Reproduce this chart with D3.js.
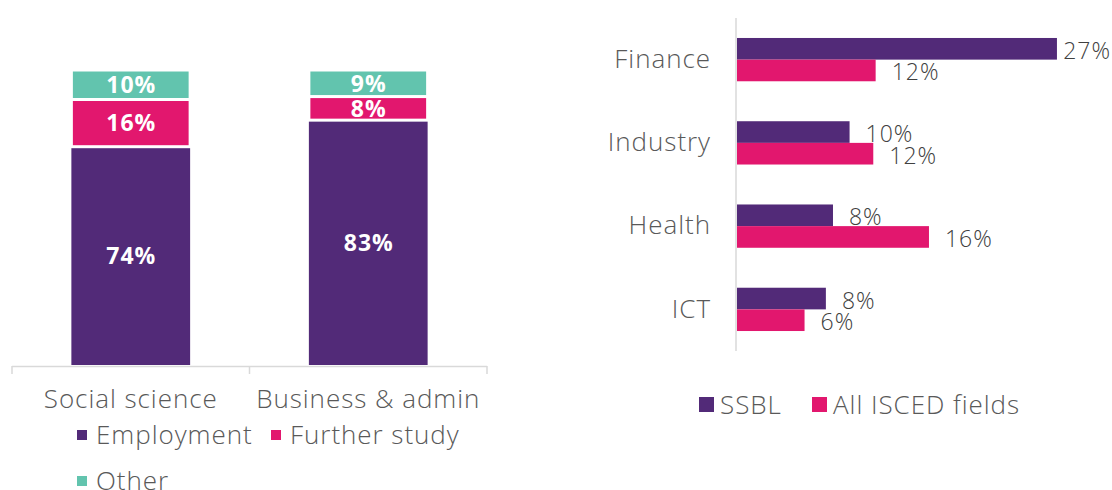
<!DOCTYPE html>
<html><head><meta charset="utf-8">
<script src="https://cdn.jsdelivr.net/npm/d3@7"></script>
<style>
html,body{margin:0;padding:0;background:#fff;}
svg{display:block;font-family:"Open Sans", sans-serif;}
</style></head>
<body>
<svg id="c" width="1112" height="490"></svg>
<script>
// ---- Left chart data ----
const stackCategories = ["Social science", "Business & admin"];
const stackSeries = ["Employment", "Further study", "Other"];
const employment = [74, 83];
const furtherStudy = [16, 8];
const other = [10, 9];

// ---- Right chart data ----
const sectors = ["Finance", "Industry", "Health", "ICT"];
const groupSeries = ["SSBL", "All ISCED fields"];
const ssbl = [27.0, 9.5, 8.1, 7.5];
const allIsced = [11.7, 11.5, 16.2, 5.7];

const colors = {"Employment":"#522a78","Further study":"#e2176e","Other":"#62c4ae",
                "SSBL":"#522a78","All ISCED fields":"#e2176e"};
const textGrey = "#595959";
const axisGrey = "#d9d9d9";
const FONT = "'Open Sans', sans-serif";
const LW = 300;
const BIG = 26, LS = 0.95;

const svg = d3.select("#c");

// ================= LEFT: stacked columns =================
const x1 = d3.scaleBand().domain(stackCategories).range([12, 487]).paddingInner(0.5).paddingOuter(0.25);
const y1 = d3.scaleLinear().domain([0, 100]).range([365, 70]);

const rows = stackCategories.map((c, i) => ({cat: c, "Employment": employment[i], "Further study": furtherStudy[i], "Other": other[i]}));
const stacked = d3.stack().keys(stackSeries)(rows);

const gL = svg.append("g");
stacked.forEach(layer => {
  const key = layer.key;
  const g = gL.append("g");
  g.selectAll("rect").data(layer).join("rect")
    .attr("x", d => x1(d.data.cat))
    .attr("width", x1.bandwidth())
    .attr("y", d => y1(d[1]))
    .attr("height", d => y1(d[0]) - y1(d[1]))
    .attr("fill", colors[key])
    .attr("stroke", key === "Employment" ? "none" : "#fff")
    .attr("stroke-width", 3);
  g.selectAll("text").data(layer).join("text")
    .attr("x", d => x1(d.data.cat) + x1.bandwidth() / 2 + 0.5)
    .attr("y", d => (y1(d[0]) + y1(d[1])) / 2)
    .attr("dy", "0.36em")
    .attr("text-anchor", "middle")
    .attr("fill", "#fff")
    .attr("font-weight", "bold")
    .attr("font-size", 23)
    .attr("letter-spacing", 1)
    .attr("font-family", FONT)
    .text(d => (d[1] - d[0]) + "%");
});

// x axis
const axL = svg.append("g").attr("transform", "translate(0,366)")
  .call(d3.axisBottom(x1).tickSize(0).tickPadding(0));
axL.select(".domain").remove();
axL.selectAll(".tick text").attr("fill", textGrey).attr("font-size", BIG).attr("font-weight", LW)
  .attr("letter-spacing", LS).attr("y", 42).attr("dy", 0).attr("font-family", FONT);
const axLineG = svg.append("g").attr("stroke", axisGrey).attr("stroke-width", 1.5).attr("fill", "none");
axLineG.append("line").attr("x1", 12).attr("x2", 487).attr("y1", 366.5).attr("y2", 366.5);
const bounds = [x1.range()[0], (x1(stackCategories[0]) + x1.bandwidth() + x1(stackCategories[1])) / 2, x1.range()[1]];
axLineG.selectAll("line.t").data(bounds).join("line").attr("class", "t")
  .attr("x1", d => d).attr("x2", d => d).attr("y1", 366).attr("y2", 374);

// left legend
const legL = [
  {k: "Employment", x: 77, y: 435},
  {k: "Further study", x: 271, y: 435},
  {k: "Other", x: 77, y: 481}
];
const lg = svg.append("g");
legL.forEach(l => {
  lg.append("rect").attr("x", l.x).attr("y", l.y - 5).attr("width", 10).attr("height", 10).attr("fill", colors[l.k]);
  lg.append("text").attr("x", l.x + 19).attr("y", l.y).attr("dy", "0.35em").attr("fill", textGrey)
    .attr("font-size", BIG).attr("letter-spacing", LS).attr("font-weight", LW).attr("font-family", FONT).text(l.k);
});

// ================= RIGHT: grouped bars =================
const y2 = d3.scaleBand().domain(sectors).range([18, 351]).paddingInner(0.48).paddingOuter(0.24);
const y2s = d3.scaleBand().domain(groupSeries).range([0, y2.bandwidth()]);
const x2 = d3.scaleLinear().domain([0, 30]).range([737, 737 + 30 * 11.85]);

const seriesVals = {"SSBL": ssbl, "All ISCED fields": allIsced};
const gR = svg.append("g");
groupSeries.forEach(s => {
  const data = sectors.map((c, i) => ({c, v: seriesVals[s][i]}));
  gR.append("g").selectAll("rect").data(data).join("rect")
    .attr("x", x2(0))
    .attr("y", d => y2(d.c) + y2s(s))
    .attr("width", d => x2(d.v) - x2(0))
    .attr("height", y2s.bandwidth())
    .attr("fill", colors[s]);
  gR.append("g").selectAll("text").data(data).join("text")
    .attr("x", d => x2(d.v) + 16)
    .attr("y", d => y2(d.c) + y2s(s) + y2s.bandwidth() / 2 + 2)
    .attr("dy", "0.35em")
    .attr("fill", "#404040")
    .attr("font-size", 23)
    .attr("letter-spacing", 1)
    .attr("font-weight", LW)
    .attr("font-family", FONT)
    .text(d => Math.round(d.v) + "%")
    .each(function() {
      const w = this.getComputedTextLength();
      const x = +this.getAttribute("x");
      if (x + w > 1111) this.setAttribute("x", 1111 - w);
    });
});

// y axis
const axR = svg.append("g").attr("transform", "translate(736,0)")
  .call(d3.axisLeft(y2).tickSize(0).tickPadding(25));
axR.select(".domain").remove();
axR.selectAll(".tick text").attr("fill", textGrey).attr("font-size", BIG).attr("letter-spacing", LS)
  .attr("font-weight", LW).attr("dy", "0.32em").attr("font-family", FONT);
svg.append("line").attr("x1", 736).attr("x2", 736).attr("y1", 18).attr("y2", 351)
  .attr("stroke", axisGrey).attr("stroke-width", 1.5);

// right legend
const legR = [{k: "SSBL", x: 699}, {k: "All ISCED fields", x: 812}];
legR.forEach(l => {
  svg.append("rect").attr("x", l.x).attr("y", 397).attr("width", 15).attr("height", 15).attr("fill", colors[l.k]);
  svg.append("text").attr("x", l.x + 21).attr("y", 405).attr("dy", "0.35em").attr("fill", textGrey)
    .attr("font-size", BIG).attr("letter-spacing", LS).attr("font-weight", LW).attr("font-family", FONT).text(l.k);
});
</script>
</body></html>
